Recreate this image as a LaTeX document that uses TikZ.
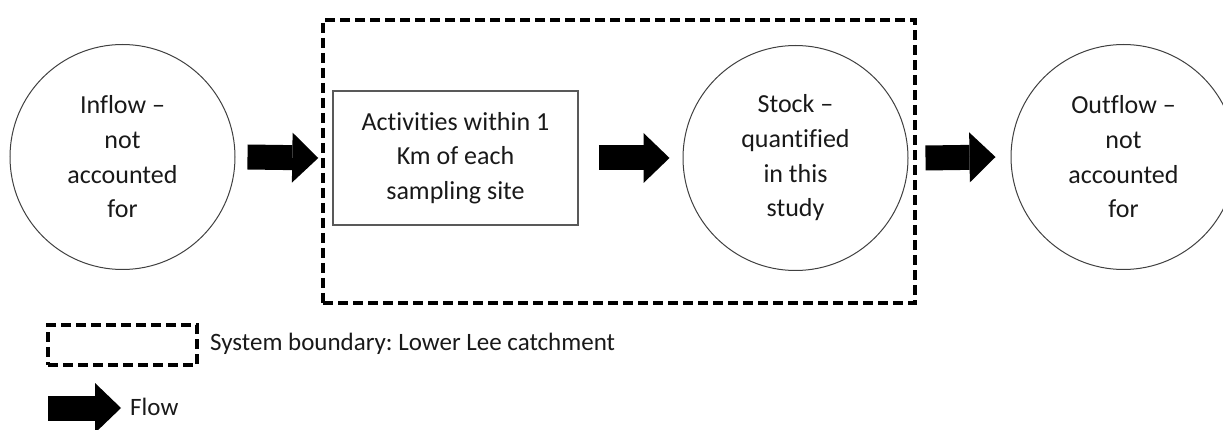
\documentclass[tikz,border=0pt]{standalone}
\usepackage{fontspec}
\setmainfont{Carlito}[Ligatures=NoCommon]
\frenchspacing
\usetikzlibrary{arrows.meta}
\begin{document}
\begin{tikzpicture}[x=1pt,y=-1pt,
  every node/.style={font=\fontsize{26}{34.7}\selectfont, text=black!90},
  roundnode/.style={circle, draw=black!75, line width=1pt, minimum size=225pt, inner sep=0pt, align=center},
  actbox/.style={draw=black!65, line width=1.5pt, minimum width=245pt, minimum height=134pt, inner sep=0pt, align=center},
  boundary/.style={draw=black, line width=3.5pt, dash pattern=on 10pt off 5pt, inner sep=0pt},
  flow/.style={line width=25pt, -{Triangle[length=26pt,width=50pt,line width=0pt]}},
  legendtext/.style={anchor=west, inner sep=0pt, font=\fontsize{25}{30}\selectfont}
]
\useasboundingbox (0,0) rectangle (1223,430);
\clip (0,0) rectangle (1223,430);
% system boundary
\node[boundary, minimum width=592pt, minimum height=283pt] (sys) at (619,161.5) {};
% main nodes
\node[roundnode] (in) at (122.5,157) {Inflow –\\not\\accounted\\for};
\node[actbox] (act) at (455.5,158) {Activities within 1\\Km of each\\sampling site};
\node[roundnode] (st) at (795.5,158) {Stock –\\quantified\\in this\\study};
\node[roundnode] (out) at (1123.5,157) {Outflow –\\not\\accounted\\for};
% flows
\draw[flow] ([xshift=12pt]in.east) -- ([xshift=-14pt]act.west);
\draw[flow] ([xshift=20pt]act.east) -- ([xshift=-13pt]st.west);
\draw[flow] ([xshift=17pt]st.east) -- ([xshift=-15pt]out.west);
% legend
\node[boundary, minimum width=149pt, minimum height=40pt] (lbox) at (122.5,345) {};
\node[legendtext] (ltext) at (210,344) {System boundary: Lower Lee catchment};
\coordinate (lfs) at (48,408);
\coordinate (lft) at (121,408);
\draw[flow] (lfs) -- (lft);
\node[legendtext] (ftext) at (130,407) {Flow};
\end{tikzpicture}
\end{document}
